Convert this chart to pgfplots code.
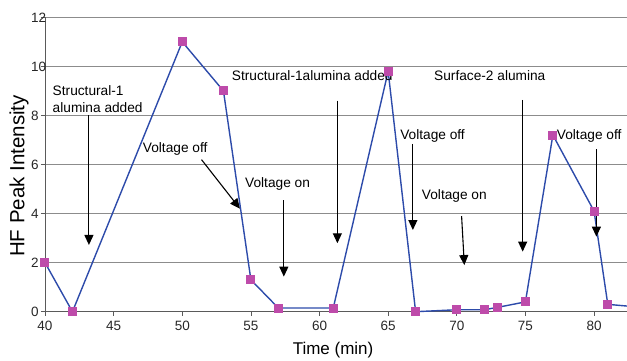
\documentclass[border=0pt]{standalone}
\usepackage{pgfplots}
\pgfplotsset{compat=1.18}
\usepackage{fontspec}
\setmainfont{Liberation Sans}
\usetikzlibrary{arrows.meta}
\definecolor{lineblue}{RGB}{45,75,170}
\definecolor{markmag}{RGB}{190,75,170}
\definecolor{gridgray}{RGB}{140,140,140}
\definecolor{axisgray}{RGB}{90,90,90}
\begin{document}
\begin{tikzpicture}
\useasboundingbox (0,0) rectangle (627pt,360pt);
\begin{axis}[
  at={(45pt,48.3pt)}, anchor=south west,
  scale only axis, width=582pt, height=294.4pt,
  xmin=40, xmax=82.4, ymin=0, ymax=12,
  xtick={40,45,...,80}, ytick={0,2,...,12},
  axis x line=bottom, axis y line=left,
  axis line style={-, draw=axisgray, line width=0.9pt},
  ymajorgrids, grid style={draw=gridgray, line width=0.8pt},
  tick align=outside, major tick length=4pt,
  tick style={draw=axisgray, line width=0.7pt},
  clip=false,
  /pgf/number format/assume math mode=true,
  ticklabel style={font=\fontsize{13.5}{16}\selectfont, text=black!85},
  yticklabel style={anchor=west, inner sep=0pt, xshift=-10pt},
  xticklabel style={anchor=north, yshift=-2pt},
  xlabel={Time (min)}, ylabel={HF Peak Intensity},
  xlabel style={at={(axis description cs:0.495,-0.130)}, anchor=center, font=\fontsize{17}{20}\selectfont},
  ylabel style={at={(axis description cs:-0.0447,0.461)}, anchor=center, font=\fontsize{20.5}{24}\selectfont},
]
\addplot[color=lineblue, line width=1.4pt, mark=square*, mark size=4pt,
  mark options={draw=markmag, fill=markmag, line width=0pt}]
  coordinates {
  (40,2.0) (42,0.0) (50,11.0) (53,9.0) (55,1.3) (57,0.15) (61,0.15)
  (65,9.8) (67,0.0) (70,0.08) (72,0.08) (73,0.18) (75,0.4) (77,7.2)
  (80,4.1) (81,0.3)
  };
\addplot[color=lineblue, line width=1.4pt, mark=none] coordinates {(81,0.3) (84,0.15)};

\tikzset{ann/.style={anchor=base west, inner sep=0pt, font=\fontsize{13.7}{16}\selectfont},
  arr/.style={draw=black, line width=1.1pt, -{Triangle[length=10pt,width=9pt]}}}
\node[ann] at (axis cs:40.55,8.81) {Structural-1};
\node[ann] at (axis cs:40.55,8.13) {alumina added};
\node[ann] at (axis cs:47.12,6.48) {Voltage off};
\node[ann] at (axis cs:54.57,5.07) {Voltage on};
\node[ann] at (axis cs:53.6,9.42) {Structural-1alumina added};
\node[ann] at (axis cs:68.34,9.42) {Surface-2 alumina};
\node[ann] at (axis cs:65.87,7.0) {Voltage off};
\node[ann] at (axis cs:67.45,4.58) {Voltage on};
\node[ann] at (axis cs:77.28,7.0) {Voltage off};

\draw[arr] (axis cs:43.2,8.0) -- (axis cs:43.2,2.72);
\draw[arr] (axis cs:51.4,6.2) -- (axis cs:54.2,4.2);
\draw[arr] (axis cs:57.4,4.55) -- (axis cs:57.4,1.43);
\draw[arr] (axis cs:61.3,8.6) -- (axis cs:61.3,2.79);
\draw[arr] (axis cs:66.8,6.84) -- (axis cs:66.8,3.33);
\draw[arr] (axis cs:70.35,3.9) -- (axis cs:70.55,1.9);
\draw[arr] (axis cs:74.8,8.63) -- (axis cs:74.8,2.45);
\draw[arr] (axis cs:80.17,6.62) -- (axis cs:80.17,3.06);
\end{axis}
\end{tikzpicture}
\end{document}
